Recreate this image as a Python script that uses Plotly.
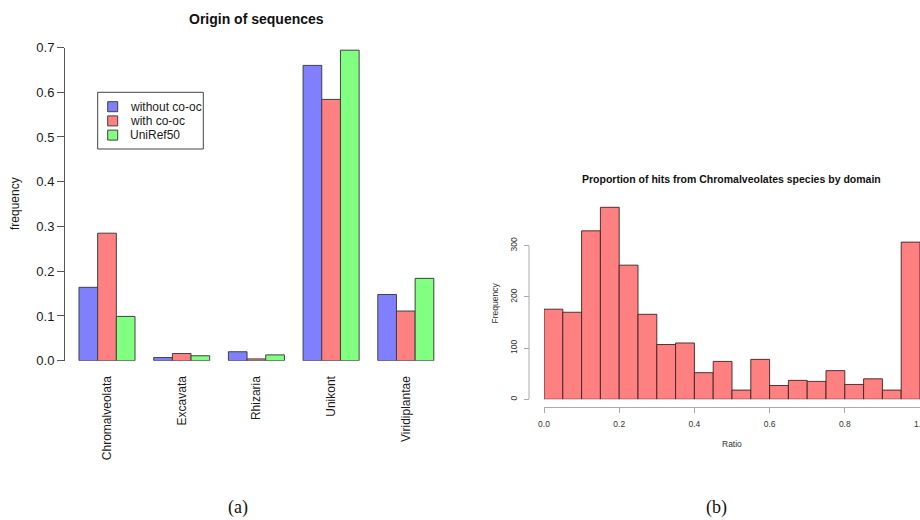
import plotly.graph_objects as go

# ---------------- data ----------------
categories = ["Chromalveolata", "Excavata", "Rhizaria", "Unikont", "Viridiplantae"]
series_names = ["without co-oc", "with co-oc", "UniRef50"]
without_cooc = [0.164, 0.007, 0.020, 0.660, 0.148]
with_cooc = [0.285, 0.016, 0.004, 0.584, 0.111]
uniref50 = [0.099, 0.011, 0.013, 0.694, 0.184]
series_values = [without_cooc, with_cooc, uniref50]
series_colors = ["#8080FF", "#FF8080", "#80FF80"]

bin_width = 0.05
hist_counts = [176, 170, 329, 375, 262, 166, 107, 110, 52, 74,
               18, 78, 27, 37, 35, 56, 29, 40, 18, 307]
hist_centers = [bin_width * (i + 0.5) for i in range(len(hist_counts))]

a_yticks = [0.0, 0.1, 0.2, 0.3, 0.4, 0.5, 0.6, 0.7]
b_xticks = [0.0, 0.2, 0.4, 0.6, 0.8, 1.0]
b_yticks = [0, 100, 200, 300]

# ---------------- helpers (pixel -> paper) ----------------
W, H = 920, 520
def px(x):
    return x / W
def py(y):
    return 1 - y / H

FONT = "Liberation Sans, Arial, Helvetica, sans-serif"
SERIF = "Liberation Serif, Times New Roman, serif"

fig = go.Figure()

for name, vals, col in zip(series_names, series_values, series_colors):
    fig.add_trace(go.Bar(
        x=categories, y=vals, name=name, showlegend=False,
        marker=dict(color=col, line=dict(color="#404040", width=1)),
        xaxis="x", yaxis="y",
    ))

fig.add_trace(go.Bar(
    x=hist_centers, y=hist_counts, width=bin_width, showlegend=False,
    marker=dict(color="#FF8080", line=dict(color="rgba(60,35,35,0.9)", width=1)),
    xaxis="x2", yaxis="y2",
))

# panel (a) category geometry
unit = 74.7
c0 = 107.0
a_left, a_right = 65.0, 450.0

# panel (b) vertical geometry: 0 at 399.3 px, 300 at 245.7 px
b_y0, b_y300 = 399.3, 245.7
b_top_val = 390
b_top_px = b_y0 - (b_y0 - b_y300) * b_top_val / 300

fig.update_layout(
    width=W, height=H,
    margin=dict(l=0, r=0, t=0, b=0, autoexpand=False),
    paper_bgcolor="white", plot_bgcolor="white",
    barmode="group", bargap=0.25, bargroupgap=0,
    font=dict(family=FONT, color="#1a1a1a"),
    xaxis=dict(
        domain=[px(a_left), px(a_right)],
        range=[(a_left - c0) / unit, (a_right - c0) / unit],
        showline=False, showgrid=False, zeroline=False,
        ticks="", tickangle=-90, tickfont=dict(size=12, color="#1a1a1a"),
        ticklabelstandoff=12, anchor="y", automargin=False,
    ),
    yaxis=dict(
        domain=[py(360.7), py(47.5)],
        range=[0, 0.7],
        showline=True, linecolor="#555", linewidth=1,
        showgrid=False, zeroline=False,
        ticks="outside", ticklen=7, tickcolor="#555",
        tickvals=a_yticks, tickformat=".1f",
        tickfont=dict(size=13, color="#1a1a1a"), anchor="x", automargin=False,
    ),
    xaxis2=dict(
        domain=[px(544), 1.0],
        range=[0, 1.0],
        anchor="free", position=py(407.3),
        showline=True, linecolor="#aaa", linewidth=1,
        showgrid=False, zeroline=False,
        ticks="outside", ticklen=5, tickcolor="#aaa",
        tickvals=b_xticks, tickformat=".1f", ticklabelstandoff=3,
        ticklabeloverflow="allow",
        tickfont=dict(size=8.5, color="#333"), automargin=False,
    ),
    yaxis2=dict(
        domain=[py(b_y0), py(b_top_px)],
        range=[0, b_top_val],
        anchor="free", position=px(529),
        showline=False, showgrid=False, zeroline=False,
        ticks="outside", ticklen=5, tickcolor="#aaa",
        tickvals=b_yticks, tickangle=-90, ticklabelstandoff=4,
        tickfont=dict(size=8.5, color="#333"), automargin=False,
    ),
)

annotations = [
    dict(text="<b>Origin of sequences</b>", x=px(256.5), y=py(19.3),
         font=dict(size=14, color="#111")),
    dict(text="frequency", x=px(15), y=py(204), textangle=-90,
         font=dict(size=12, color="#1a1a1a")),
    dict(text="<b>Proportion of hits from Chromalveolates species by domain</b>",
         x=px(731.5), y=py(179), font=dict(size=10.5, color="#111")),
    dict(text="Frequency", x=px(494), y=py(303.5), textangle=-90,
         font=dict(size=8.5, color="#333")),
    dict(text="Ratio", x=px(732), y=py(444), font=dict(size=8.5, color="#333")),
    dict(text="(a)", x=px(238), y=py(507.7), font=dict(size=18, family=SERIF, color="#111")),
    dict(text="(b)", x=px(716), y=py(507.7), font=dict(size=18, family=SERIF, color="#111")),
]

# R-style y axis line for panel (b): spans first to last tick only
shapes = [dict(type="line", xref="paper", yref="y2",
               x0=px(529), x1=px(529), y0=b_yticks[0], y1=b_yticks[-1],
               line=dict(color="#aaa", width=1))]

# manual legend (R-style box)
leg_x0, leg_x1, leg_y0, leg_y1 = 97.7, 203.3, 92.3, 149.0
row0, row_step = 106.7, 14.2
shapes.append(dict(type="rect", xref="paper", yref="paper",
                   x0=px(leg_x0), x1=px(leg_x1), y0=py(leg_y1), y1=py(leg_y0),
                   line=dict(color="#444", width=1), fillcolor="white"))
for i, (name, col) in enumerate(zip(series_names, series_colors)):
    cy = row0 + i * row_step
    shapes.append(dict(type="rect", xref="paper", yref="paper",
                       x0=px(107.7), x1=px(117.7), y0=py(cy + 5), y1=py(cy - 5),
                       line=dict(color="#404040", width=1), fillcolor=col))
    annotations.append(dict(text=name, x=px(127.5), y=py(cy), xanchor="left",
                            font=dict(size=12, color="#1a1a1a")))

for a in annotations:
    a.setdefault("xref", "paper")
    a.setdefault("yref", "paper")
    a.setdefault("showarrow", False)
    a.setdefault("xanchor", "center")
    a.setdefault("yanchor", "middle")

fig.update_layout(annotations=annotations, shapes=shapes)

fig.write_html("out.html",
               config={"displayModeBar": False},
               post_script="document.body.style.margin='0';document.body.style.overflow='hidden';")
